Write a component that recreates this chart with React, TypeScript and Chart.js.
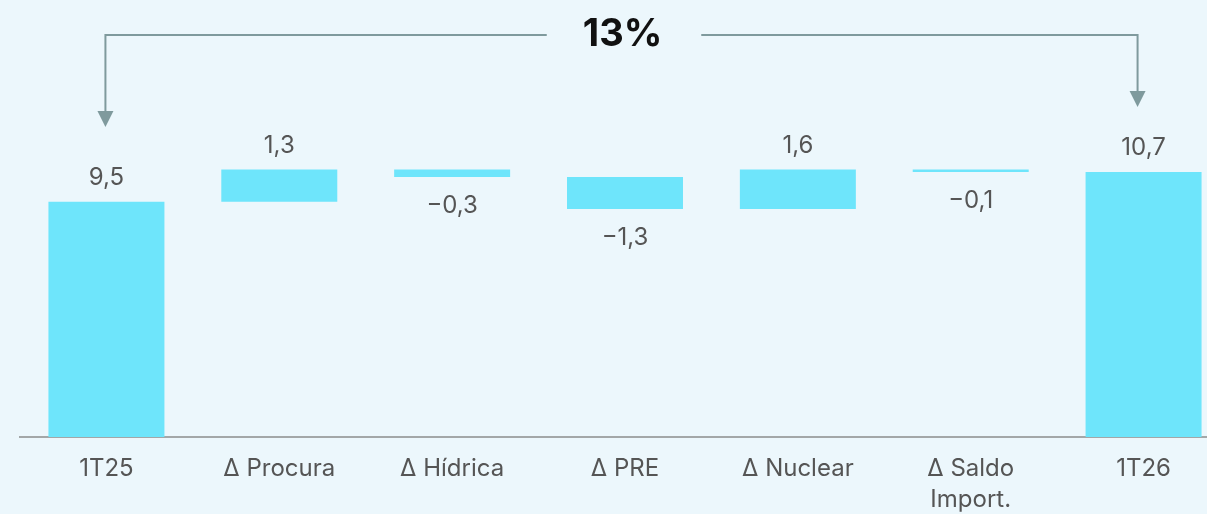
import React, { useEffect, useRef } from 'react';
import { Chart, registerables } from 'chart.js';

Chart.register(...registerables);

// ---- Data ----
const categories: (string | string[])[] = [
  '1T25',
  'Δ Procura',
  'Δ Hídrica',
  'Δ PRE',
  'Δ Nuclear',
  ['Δ Saldo', 'Import.'],
  '1T26',
];
const startValue = 9.5;
const deltas = [1.3, -0.3, -1.3, 1.6, -0.1];
const endValue = 10.7;
const changeLabel = '13%';
const yMin = 0;
const yMax = 17.64;

// ---- Derived ----
const ranges: [number, number][] = [];
ranges.push([0, startValue]);
let cum = startValue;
deltas.forEach((d) => {
  const next = Math.round((cum + d) * 100) / 100;
  ranges.push([cum, next]);
  cum = next;
});
ranges.push([0, endValue]);
const displayValues = [startValue, ...deltas, endValue];

const fmt = (v: number) => (v < 0 ? '\u2212' : '') + Math.abs(v).toFixed(1).replace('.', ',');

const BG = '#ECF7FC';
const BAR = '#6EE5FB';
const TEXT = '#555555';
const ARROW = '#7F9A9D';
const FONT = 'Inter, "Noto Sans", sans-serif';

const labelsPlugin = {
  id: 'wfLabels',
  afterDatasetsDraw(chart: any) {
    const ctx = chart.ctx;
    const meta = chart.getDatasetMeta(0);
    ctx.save();
    ctx.font = `24px ${FONT}`;
    ctx.fillStyle = TEXT;
    ctx.textAlign = 'center';
    ctx.textBaseline = 'middle';
    meta.data.forEach((el: any, i: number) => {
      const v = displayValues[i];
      const top = Math.min(el.y, el.base);
      const bottom = Math.max(el.y, el.base);
      const y = v >= 0 ? top - 24 : bottom + 29;
      ctx.fillText(fmt(v), el.x, y);
    });
    ctx.restore();
  },
};

const annotationPlugin = {
  id: 'wfAnnotation',
  afterDraw(chart: any) {
    const ctx = chart.ctx;
    const meta = chart.getDatasetMeta(0);
    const n = meta.data.length;
    const x0 = meta.data[0].x - 1;
    const x1 = meta.data[n - 1].x - 6;
    const lineY = 35;
    const leftTip = 127;
    const rightTip = 107;
    const head = 16;
    const cx = (x0 + x1) / 2;

    ctx.save();
    ctx.font = `bold 38px ${FONT}`;
    const tw = ctx.measureText(changeLabel).width;

    ctx.strokeStyle = ARROW;
    ctx.lineWidth = 2;
    ctx.beginPath();
    ctx.moveTo(x0, leftTip - head + 1);
    ctx.lineTo(x0, lineY);
    ctx.lineTo(cx - tw / 2 - 35, lineY);
    ctx.moveTo(cx + tw / 2 + 40, lineY);
    ctx.lineTo(x1, lineY);
    ctx.lineTo(x1, rightTip - head + 1);
    ctx.stroke();

    ctx.fillStyle = ARROW;
    [
      [x0, leftTip],
      [x1, rightTip],
    ].forEach(([x, tip]) => {
      ctx.beginPath();
      ctx.moveTo(x - 8, tip - head);
      ctx.lineTo(x + 8, tip - head);
      ctx.lineTo(x, tip);
      ctx.closePath();
      ctx.fill();
    });

    ctx.fillStyle = '#111111';
    ctx.textAlign = 'center';
    ctx.textBaseline = 'middle';
    ctx.fillText(changeLabel, cx + 1, 35);
    ctx.restore();
  },
};

export default function App() {
  const canvasRef = useRef<HTMLCanvasElement | null>(null);

  useEffect(() => {
    if (!canvasRef.current) return;
    const chart = new Chart(canvasRef.current, {
      type: 'bar',
      data: {
        labels: categories as any,
        datasets: [
          {
            data: ranges as any,
            backgroundColor: BAR,
            borderWidth: 0,
            categoryPercentage: 1,
            barPercentage: 0.671,
          },
        ],
      },
      options: {
        responsive: false,
        animation: false,
        devicePixelRatio: 1,
        layout: { padding: { left: 20, right: 0, top: 0, bottom: 0 } },
        plugins: {
          legend: { display: false },
          tooltip: { enabled: false },
          title: { display: false },
        },
        scales: {
          x: {
            grid: { display: false, drawTicks: false },
            border: { display: true, color: '#A3A7A8', width: 2 },
            ticks: {
              color: TEXT,
              padding: 16,
              maxRotation: 0,
              autoSkip: false,
              font: { family: FONT, size: 24, lineHeight: 1.3 },
            },
            afterFit: (scale: any) => {
              scale.height = 77;
            },
          },
          y: {
            display: false,
            min: yMin,
            max: yMax,
          },
        },
      },
      plugins: [labelsPlugin, annotationPlugin],
    });
    return () => chart.destroy();
  }, []);

  return (
    <div
      style={{
        position: 'fixed',
        left: 0,
        top: 0,
        width: 1207,
        height: 514,
        overflow: 'hidden',
        background: BG,
      }}
    >
      <canvas ref={canvasRef} width={1230} height={514} style={{ display: 'block' }} />
    </div>
  );
}
